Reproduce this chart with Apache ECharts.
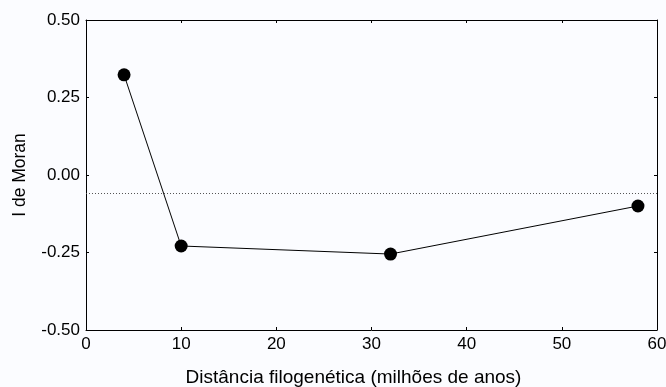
<!DOCTYPE html>
<html>
<head>
<meta charset="utf-8">
<script src="https://cdn.jsdelivr.net/npm/echarts@6/dist/echarts.min.js"></script>
<style>
  html, body { margin: 0; padding: 0; background: #fbfcff; }
  #chart { width: 666px; height: 387px; }
</style>
</head>
<body>
<div id="chart"></div>
<script>
// distância (milhões de anos) e I de Moran
const distancias = [4, 10, 32, 58]
const moranI = [0.323, -0.229, -0.255, -0.1]
// valor esperado (linha pontilhada)
const esperado = -0.061

const fonte = 'Liberation Sans, Arial, sans-serif'

let chart = echarts.init(document.getElementById('chart'))
let pontos = distancias.map((d, i) => [d, moranI[i]])

// eixo secundário (topo / direita), só linha e ticks
function eixoEspelho(extra) {
  return Object.assign({
    type: 'value',
    axisLine: { show: true, onZero: false, lineStyle: { color: '#000', width: 1 } },
    axisTick: { show: true, inside: true, length: 3, lineStyle: { color: '#000' } },
    axisLabel: { show: false },
    splitLine: { show: false }
  }, extra)
}

chart.setOption({
  backgroundColor: '#fbfcff',
  animation: false,
  grid: { left: 86, right: 9, top: 20, bottom: 57, outerBoundsMode: 'none', containLabel: false },
  xAxis: [{
    type: 'value',
    min: 0, max: 60, interval: 10,
    name: 'Distância filogenética (milhões de anos)',
    nameLocation: 'middle',
    nameGap: 38,
    nameTextStyle: { color: '#000', fontSize: 19, fontFamily: fonte, padding: [0, 36, 0, 0] },
    axisLine: { show: true, onZero: false, lineStyle: { color: '#000', width: 1 } },
    axisTick: { show: true, inside: true, length: 3, lineStyle: { color: '#000' } },
    axisLabel: { color: '#000', fontSize: 17, fontFamily: fonte, margin: 6 },
    splitLine: { show: false }
  }, eixoEspelho({ position: 'top', min: 0, max: 60, interval: 10 })],
  yAxis: [{
    type: 'value',
    min: -0.5, max: 0.5, interval: 0.25,
    name: 'I de Moran',
    nameLocation: 'middle',
    nameGap: 57,
    nameTextStyle: { color: '#000', fontSize: 17.5, fontFamily: fonte },
    axisLine: { show: true, onZero: false, lineStyle: { color: '#000', width: 1 } },
    axisTick: { show: true, inside: true, length: 3, lineStyle: { color: '#000' } },
    axisLabel: { color: '#000', fontSize: 17, fontFamily: fonte, margin: 6,
      formatter: v => v.toFixed(2) },
    splitLine: { show: false }
  }, eixoEspelho({ position: 'right', min: -0.5, max: 0.5, interval: 0.25 })],
  series: [{
    type: 'line',
    data: pontos,
    symbol: 'circle',
    symbolSize: 13,
    lineStyle: { color: '#000', width: 1 },
    itemStyle: { color: '#000' },
    markLine: {
      silent: true,
      symbol: 'none',
      label: { show: false },
      lineStyle: { color: '#555', type: [1, 2], width: 1 },
      data: [{ yAxis: esperado }]
    }
  }]
})
</script>
</body>
</html>
